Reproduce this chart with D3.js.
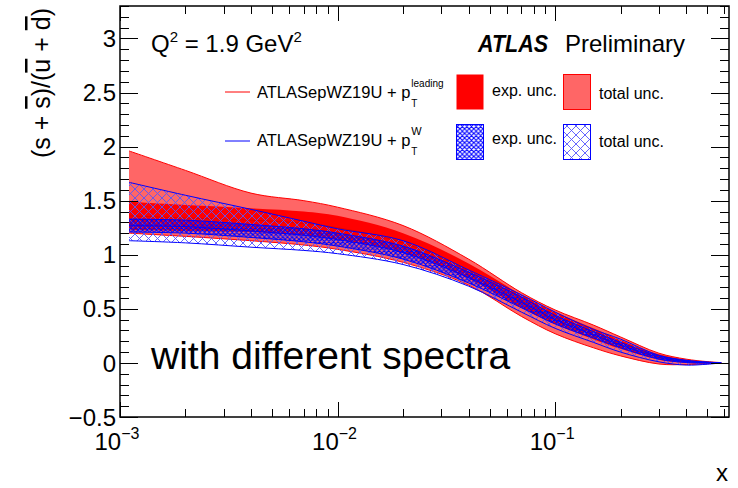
<!DOCTYPE html>
<html><head><meta charset="utf-8">
<script src="https://cdn.jsdelivr.net/npm/d3@7"></script>
<style>
body{margin:0;background:#fff}
svg{display:block}
text{font-family:"Liberation Sans",Arial,Helvetica,sans-serif;fill:#000}
</style>
</head><body>
<svg id="chart" width="738" height="488"></svg>
<script>
// ---- data ----
const xValues   = [0.0011, 0.002, 0.004, 0.007, 0.01, 0.02, 0.04, 0.07, 0.1, 0.15, 0.2, 0.3, 0.4, 0.5, 0.58];
// ATLASepWZ19U + pT(leading)  (red)
const redCentral = [1.36, 1.34, 1.32, 1.29, 1.25, 1.11, 0.85, 0.57, 0.42, 0.27, 0.17, 0.055, 0.015, 0.003, 0.001];
const redExpLow  = [1.23, 1.22, 1.21, 1.18, 1.14, 1.02, 0.78, 0.51, 0.36, 0.22, 0.13, 0.03, 0.0, -0.005, 0];
const redExpHigh = [1.49, 1.46, 1.43, 1.40, 1.36, 1.20, 0.92, 0.63, 0.47, 0.32, 0.21, 0.08, 0.03, 0.01, 0.002];
const redTotLow  = [1.20, 1.17, 1.13, 1.09, 1.05, 0.93, 0.72, 0.43, 0.27, 0.14, 0.065, -0.01, -0.015, -0.008, 0];
const redTotHigh = [1.96, 1.78, 1.57, 1.50, 1.44, 1.27, 0.96, 0.65, 0.49, 0.35, 0.24, 0.09, 0.035, 0.012, 0.003];
// ATLASepWZ19U + pT(W)  (blue)
const blueCentral = [1.27, 1.26, 1.22, 1.18, 1.14, 1.02, 0.79, 0.56, 0.40, 0.26, 0.165, 0.05, 0.012, 0.002, 0];
const blueExpLow  = [1.21, 1.20, 1.16, 1.12, 1.08, 0.96, 0.74, 0.51, 0.36, 0.23, 0.14, 0.035, 0.004, -0.002, 0];
const blueExpHigh = [1.33, 1.32, 1.28, 1.24, 1.20, 1.08, 0.84, 0.61, 0.44, 0.29, 0.19, 0.065, 0.02, 0.006, 0.001];
const blueTotLow  = [1.13, 1.11, 1.07, 1.04, 1.01, 0.91, 0.71, 0.47, 0.32, 0.19, 0.10, 0.01, -0.02, -0.012, 0];
const blueTotHigh = [1.67, 1.55, 1.42, 1.31, 1.24, 1.13, 0.86, 0.63, 0.47, 0.31, 0.22, 0.07, 0.025, 0.008, 0.001];

const yMajorTicks = [-0.5, 0, 0.5, 1, 1.5, 2, 2.5, 3];
const yTickLabels = ["\u22120.5", "0", "0.5", "1", "1.5", "2", "2.5", "3"];
const xMajorTicks = [0.001, 0.01, 0.1];
const xTickExps   = ["\u22123", "\u22122", "\u22121"];

// ---- layout ----
const svg = d3.select("#chart");
const L = 120, R = 729, T = 6, B = 417;
const x = d3.scaleLog().domain([0.001, 0.63]).range([L, R]);
const y = d3.scaleLinear().domain([-0.5, 3.3]).range([B, T]);

const defs = svg.append("defs");
defs.append("clipPath").attr("id", "clip").append("rect")
  .attr("x", L).attr("y", T).attr("width", R - L).attr("height", B - T);

function hatch(id, w, color, sw) {
  const p = defs.append("pattern").attr("id", id).attr("patternUnits", "userSpaceOnUse")
    .attr("width", w).attr("height", w);
  p.append("path").attr("d", `M0,0L${w},${w}M${w},0L0,${w}M${-w/2},${w/2}L${w/2},${-w/2}`)
    .attr("stroke", color).attr("stroke-width", sw).attr("fill", "none");
  p.append("path").attr("d", `M${w/2},${w*1.5}L${w*1.5},${w/2}M${-w/2},${w/2}L${w/2},${w*1.5}M${w/2},${-w/2}L${w*1.5},${w/2}`)
    .attr("stroke", color).attr("stroke-width", sw).attr("fill", "none");
}
hatch("hTot", 9, "#5555ff", 0.9);
hatch("hExp", 4.6, "#0000ff", 1.1);

const curve = d3.curveCatmullRom.alpha(0.5);
const rows = (lo, hi) => xValues.map((v, i) => ({ x: v, lo: lo[i], hi: hi[i] }));
const area = d3.area().x(d => x(d.x)).y0(d => y(d.lo)).y1(d => y(d.hi)).curve(curve);
const lineLo = d3.line().x(d => x(d.x)).y(d => y(d.lo)).curve(curve);
const lineHi = d3.line().x(d => x(d.x)).y(d => y(d.hi)).curve(curve);

const plot = svg.append("g").attr("clip-path", "url(#clip)");

const redTot = rows(redTotLow, redTotHigh);
const redExp = rows(redExpLow, redExpHigh);
const blueTot = rows(blueTotLow, blueTotHigh);
const blueExp = rows(blueExpLow, blueExpHigh);

plot.append("path").datum(redTot).attr("d", area).attr("fill", "#ff6666");
plot.append("path").datum(redTot).attr("d", lineHi).attr("fill", "none").attr("stroke", "#ff0000").attr("stroke-width", 1);
plot.append("path").datum(redTot).attr("d", lineLo).attr("fill", "none").attr("stroke", "#ff0000").attr("stroke-width", 1);
plot.append("path").datum(redExp).attr("d", area).attr("fill", "#ff0000");
plot.append("path").datum(rows(redCentral, redCentral)).attr("d", lineHi).attr("fill", "none").attr("stroke", "#e00000").attr("stroke-width", 1);

plot.append("path").datum(blueTot).attr("d", area).attr("fill", "url(#hTot)");
plot.append("path").datum(blueTot).attr("d", lineHi).attr("fill", "none").attr("stroke", "#0000ff").attr("stroke-width", 1);
plot.append("path").datum(blueTot).attr("d", lineLo).attr("fill", "none").attr("stroke", "#0000ff").attr("stroke-width", 1);
plot.append("path").datum(blueExp).attr("d", area).attr("fill", "url(#hExp)");
plot.append("path").datum(blueExp).attr("d", lineHi).attr("fill", "none").attr("stroke", "#0000ff").attr("stroke-width", 1);
plot.append("path").datum(blueExp).attr("d", lineLo).attr("fill", "none").attr("stroke", "#0000ff").attr("stroke-width", 1);
plot.append("path").datum(rows(blueCentral, blueCentral)).attr("d", lineHi).attr("fill", "none").attr("stroke", "#0000ff").attr("stroke-width", 1);

// ---- frame & ticks ----
const axisG = svg.append("g").attr("stroke", "#000").attr("stroke-width", 1);
const yMinor = d3.range(-5, 34).map(k => k / 10);
yMinor.forEach(v => {
  const isMajor = Math.abs(v * 2 - Math.round(v * 2)) < 1e-6;
  const len = isMajor ? 18 : 9;
  const yy = Math.round(y(v)) + 0.5;
  axisG.append("line").attr("x1", L).attr("x2", L + len).attr("y1", yy).attr("y2", yy);
  axisG.append("line").attr("x1", R).attr("x2", R - len).attr("y1", yy).attr("y2", yy);
});
const xMinor = [];
[-3, -2, -1].forEach(d => { for (let m = 1; m <= 9; m++) { const v = m * Math.pow(10, d); if (v <= 0.63) xMinor.push({ v, major: m === 1 }); } });
xMinor.forEach(t => {
  const len = t.major ? 15 : 8;
  const xx = Math.round(x(t.v)) + 0.5;
  axisG.append("line").attr("x1", xx).attr("x2", xx).attr("y1", B).attr("y2", B - len);
  axisG.append("line").attr("x1", xx).attr("x2", xx).attr("y1", T).attr("y2", T + len);
});
svg.append("rect").attr("x", L).attr("y", T).attr("width", R - L).attr("height", B - T)
  .attr("fill", "none").attr("stroke", "#000").attr("stroke-width", 1.5);

// tick labels
yMajorTicks.forEach((v, i) => {
  svg.append("text").attr("x", 116).attr("y", y(v)).attr("dy", "0.36em")
    .attr("text-anchor", "end").attr("font-size", 24).text(yTickLabels[i]);
});
xMajorTicks.forEach((v, i) => {
  const t = svg.append("text").attr("x", x(v) - 3).attr("y", 450).attr("text-anchor", "middle").attr("font-size", 24);
  t.append("tspan").text("10");
  t.append("tspan").attr("dy", -11).attr("font-size", 16).text(xTickExps[i]);
});

// axis titles
svg.append("text").attr("x", R - 1).attr("y", 481).attr("text-anchor", "end").attr("font-size", 24).text("x");
const yt = svg.append("text").attr("transform", "translate(50,8) rotate(-90)").attr("text-anchor", "end").attr("font-size", 25);
yt.append("tspan").text("(s + ");
yt.append("tspan").attr("text-decoration", "overline").text("s");
yt.append("tspan").text(")/(");
yt.append("tspan").attr("text-decoration", "overline").text("u");
yt.append("tspan").text(" + ");
yt.append("tspan").attr("text-decoration", "overline").text("d");
yt.append("tspan").text(")");

// labels inside plot
const q = svg.append("text").attr("x", 151).attr("y", 52).attr("font-size", 24);
q.append("tspan").text("Q");
q.append("tspan").attr("dy", -10).attr("font-size", 15).text("2");
q.append("tspan").attr("dy", 10).text(" = 1.9 GeV");
q.append("tspan").attr("dy", -10).attr("font-size", 15).text("2");
svg.append("text").attr("x", 478).attr("y", 52).attr("font-size", 23).attr("font-weight", "bold").attr("font-style", "italic")
  .attr("textLength", 70).attr("lengthAdjust", "spacingAndGlyphs").text("ATLAS");
svg.append("text").attr("x", 565).attr("y", 52).attr("font-size", 24).text("Preliminary");
svg.append("text").attr("x", 151).attr("y", 369).attr("font-size", 39).text("with different spectra");

// ---- legend ----
const legendRows = [
  { sup: "leading", line: "#ff0000", ly: 92, ty: 98, by: 74, expFill: "#ff0000", expStroke: "none", totFill: "#ff6666", totStroke: "#ff0000" },
  { sup: "W", line: "#0000ff", ly: 141, ty: 146, by: 124, expFill: "url(#hExp)", expStroke: "#0000ff", totFill: "url(#hTot)", totStroke: "#0000ff" }
];
legendRows.forEach(r => {
  svg.append("line").attr("x1", 225).attr("x2", 250).attr("y1", r.ly).attr("y2", r.ly).attr("stroke", r.line).attr("stroke-width", 1);
  const t = svg.append("text").attr("x", 257).attr("y", r.ty).attr("font-size", 16.5).text("ATLASepWZ19U + p");
  const w = t.node().getComputedTextLength();
  svg.append("text").attr("x", 257 + w + 1).attr("y", r.ty - 11).attr("font-size", r.sup === "W" ? 11 : 10).text(r.sup);
  svg.append("text").attr("x", 257 + w + 1).attr("y", r.ty + 9).attr("font-size", 10).text("T");
  svg.append("rect").attr("x", 456.5).attr("y", r.by + 0.5).attr("width", 27).attr("height", 35)
    .attr("fill", r.expFill).attr("stroke", r.expStroke).attr("stroke-width", 1);
  svg.append("text").attr("x", 492).attr("y", r.ty - 2).attr("font-size", 16).text("exp. unc.");
  svg.append("rect").attr("x", 563.5).attr("y", r.by + 0.5).attr("width", 27).attr("height", 35)
    .attr("fill", r.totFill).attr("stroke", r.totStroke).attr("stroke-width", 1);
  svg.append("text").attr("x", 599).attr("y", r.ty + 1).attr("font-size", 16).text("total unc.");
});
</script>
</body></html>
